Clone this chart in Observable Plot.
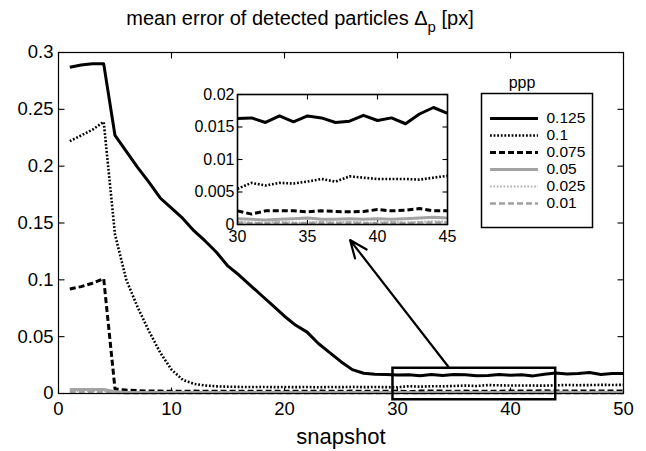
<!DOCTYPE html>
<html><head><meta charset="utf-8">
<script src="https://cdn.jsdelivr.net/npm/d3@7"></script>
<script src="https://cdn.jsdelivr.net/npm/@observablehq/plot@0.6"></script>
<style>
body{margin:0;background:#fff;font-family:"Liberation Sans",Arial,sans-serif;}
#wrap{position:relative;width:646px;height:451px;overflow:hidden;}
</style></head><body><div id="wrap"></div>
<script>
// ---- data ----
const snapshots = d3.range(1, 51);
const seriesNames = ["0.125", "0.1", "0.075", "0.05", "0.025", "0.01"];
const s125 = [0.287,0.289,0.290,0.290,0.227,0.213,0.199,0.186,0.172,0.163,
              0.154,0.143,0.134,0.124,0.112,0.104,0.095,0.086,0.077,0.068,
              0.060,0.054,0.044,0.036,0.028,0.021,0.0178,0.0170,0.0167,0.0163,
              0.0164,0.0157,0.0167,0.0158,0.0167,0.0164,0.0157,0.0159,0.0168,0.0160,
              0.0164,0.0155,0.0170,0.0180,0.0171,0.0175,0.0185,0.0168,0.0175,0.0175];
const s100 = [0.222,0.227,0.232,0.239,0.140,0.100,0.076,0.055,0.036,0.021,
              0.012,0.0085,0.0070,0.0063,0.0060,0.0058,0.0057,0.0058,0.0056,0.0057,
              0.0056,0.0057,0.0055,0.0057,0.0056,0.0058,0.0056,0.0057,0.0056,0.0055,
              0.0064,0.0060,0.0064,0.0063,0.0066,0.0070,0.0066,0.0074,0.0072,0.0070,
              0.0070,0.0070,0.0069,0.0072,0.0075,0.0073,0.0074,0.0076,0.0075,0.0076];
const s075 = [0.092,0.094,0.097,0.101,0.004,0.003,0.0025,0.0022,0.0021,0.0020,
              0.0020,0.0021,0.0019,0.0020,0.0021,0.0020,0.0019,0.0020,0.0021,0.0020,
              0.0020,0.0019,0.0021,0.0020,0.0020,0.0021,0.0020,0.0019,0.0020,0.0021,
              0.0016,0.0021,0.0021,0.0021,0.00195,0.0021,0.0020,0.00195,0.0020,0.0023,
              0.0021,0.0022,0.00245,0.0021,0.0021,0.0022,0.0021,0.0023,0.0022,0.0022];
const s050 = [0.0035,0.0035,0.0035,0.0035,0.0015,0.0009,0.0008,0.0008,0.0009,0.0008,
              0.0008,0.0009,0.0008,0.0008,0.0009,0.0008,0.0008,0.0009,0.0008,0.0008,
              0.0009,0.0008,0.0008,0.0009,0.0008,0.0008,0.0009,0.0008,0.0008,0.0009,
              0.0008,0.0007,0.0008,0.0009,0.0010,0.0008,0.0008,0.0009,0.0008,0.0009,
              0.0008,0.0009,0.0010,0.0011,0.0010,0.0009,0.0009,0.0010,0.0009,0.0009];
const s025 = [0.0022,0.0022,0.0022,0.0022,0.0008,0.0004,0.0003,0.0003,0.0004,0.0003,
              0.0003,0.0004,0.0003,0.0003,0.0004,0.0003,0.0003,0.0004,0.0003,0.0003,
              0.0004,0.0003,0.0003,0.0004,0.0003,0.0003,0.0004,0.0003,0.0003,0.0004,
              0.0003,0.0003,0.0004,0.0003,0.0003,0.0004,0.0003,0.0004,0.0003,0.0003,
              0.0004,0.0003,0.0004,0.0005,0.0004,0.0003,0.0004,0.0004,0.0003,0.0004];
const s010 = [0.0015,0.0015,0.0015,0.0015,0.0006,0.0003,0.0002,0.0002,0.0003,0.0002,
              0.0002,0.0003,0.0002,0.0002,0.0003,0.0002,0.0002,0.0003,0.0002,0.0002,
              0.0003,0.0002,0.0002,0.0003,0.0002,0.0002,0.0003,0.0002,0.0002,0.0003,
              0.0002,0.0002,0.0003,0.0002,0.0002,0.0003,0.0002,0.0003,0.0002,0.0002,
              0.0003,0.0002,0.0003,0.0003,0.0003,0.0002,0.0003,0.0003,0.0002,0.0003];
const seriesValues = [s125, s100, s075, s050, s025, s010];

const xTicks = [0, 10, 20, 30, 40, 50];
const yTicks = [0, 0.05, 0.1, 0.15, 0.2, 0.25, 0.3];
const insetXTicks = [30, 35, 40, 45];
const insetYTicks = [0, 0.005, 0.01, 0.015, 0.02];
const titleMain = "mean error of detected particles Δ";
const titleSub = "p";
const titleTail = " [px]";
const xLabel = "snapshot";
const legendTitle = "ppp";
const zoomBox = [{x1: 29.6, x2: 44.0, y1: -0.0055, y2: 0.0222}];
const arrowLink = [{x1: 34.5, y1: 0.0235, x2: 25.8, y2: 0.135}];

// ---- styles ----
const FONT = '"Liberation Sans", Arial, Helvetica, sans-serif';
const styles = {
  "0.125": {stroke: "#000", strokeWidth: 3, dash: null},
  "0.1":   {stroke: "#000", strokeWidth: 2.6, dash: "1.8,1.8"},
  "0.075": {stroke: "#000", strokeWidth: 3, dash: "6,3"},
  "0.05":  {stroke: "#a3a3a3", strokeWidth: 3, dash: null},
  "0.025": {stroke: "#b0b0b0", strokeWidth: 2.2, dash: "1.6,1.8"},
  "0.01":  {stroke: "#a0a0a0", strokeWidth: 2.6, dash: "6,3"}
};

const rows = seriesNames.flatMap((name, i) =>
  snapshots.map((x, j) => ({x, y: seriesValues[i][j], series: name})));
const fmt = d3.format("~g");

function seriesLines(data, extra = {}) {
  return seriesNames.map(name => {
    const st = styles[name];
    return Plot.line(data.filter(d => d.series === name), {
      x: "x", y: "y", stroke: st.stroke, strokeWidth: st.strokeWidth,
      strokeDasharray: st.dash || undefined, strokeLinecap: "butt", strokeLinejoin: "round", ...extra
    });
  });
}

// inward tick marks on all four sides, built from the scale domains
function boxTicks(xt, yt, xDom, yDom, fw, fh, len) {
  const kx = (xDom[1] - xDom[0]) / fw * len, ky = (yDom[1] - yDom[0]) / fh * len;
  const o = {stroke: "#000", strokeWidth: 1.1};
  return [
    Plot.link(yt, {x1: xDom[0], x2: xDom[0] + kx, y1: d => d, y2: d => d, ...o}),
    Plot.link(yt, {x1: xDom[1] - kx, x2: xDom[1], y1: d => d, y2: d => d, ...o}),
    Plot.link(xt, {x1: d => d, x2: d => d, y1: yDom[0], y2: yDom[0] + ky, ...o}),
    Plot.link(xt, {x1: d => d, x2: d => d, y1: yDom[1] - ky, y2: yDom[1], ...o})
  ];
}

// ---- main chart ----
const W = 646, H = 451, mL = 58, mR = 23, mT = 52, mB = 58;
const fw = W - mL - mR, fh = H - mT - mB;
const xDom = [0, 50], yDom = [0, 0.3];
const main = Plot.plot({
  width: W, height: H, marginLeft: mL, marginRight: mR, marginTop: mT, marginBottom: mB,
  style: {fontFamily: FONT, background: "white", overflow: "visible", position: "absolute", left: "0px", top: "0px"},
  x: {domain: xDom},
  y: {domain: yDom},
  marks: [
    ...boxTicks(xTicks, yTicks, xDom, yDom, fw, fh, 6),
    Plot.axisY(yTicks, {tickSize: 0, tickPadding: 5, tickFormat: fmt, fontSize: 18.5, label: null}),
    Plot.axisX(xTicks, {tickSize: 0, tickPadding: 8, tickFormat: fmt, fontSize: 18.5, label: null}),
    ...seriesLines(rows),
    Plot.frame({stroke: "#000", strokeWidth: 1.2}),
    Plot.rect(zoomBox, {x1: "x1", x2: "x2", y1: "y1", y2: "y2", fill: "none", stroke: "#000", strokeWidth: 2.5}),
    Plot.arrow(arrowLink, {x1: "x1", y1: "y1", x2: "x2", y2: "y2", stroke: "#000", strokeWidth: 2.2, headLength: 13, headAngle: 45}),
    Plot.text([xLabel], {text: d => d, frameAnchor: "bottom", lineAnchor: "middle", dy: 43, fontSize: 22})
  ]
});
const t = d3.select(main).append("text")
  .attr("x", 300).attr("y", 25).attr("text-anchor", "middle")
  .attr("font-family", FONT).attr("font-size", 20).attr("fill", "#000");
t.append("tspan").text(titleMain);
t.append("tspan").attr("dy", 7).attr("font-size", 15).text(titleSub);
t.append("tspan").attr("dy", -7).text(titleTail);

// ---- inset ----
const iW = 280, iH = 170, imL = 57, imR = 13, imT = 14, imB = 26;
const ifw = iW - imL - imR, ifh = iH - imT - imB;
const ixDom = [30, 45], iyDom = [0, 0.02];
const insetRows = rows.filter(d => d.x >= 30 && d.x <= 45);
const inset = Plot.plot({
  width: iW, height: iH, marginLeft: imL, marginRight: imR, marginTop: imT, marginBottom: imB,
  style: {fontFamily: FONT, background: "transparent", overflow: "visible", position: "absolute", left: "180px", top: "80px"},
  x: {domain: ixDom},
  y: {domain: iyDom},
  marks: [
    Plot.frame({fill: "white", stroke: "none"}),
    ...boxTicks(insetXTicks, insetYTicks, ixDom, iyDom, ifw, ifh, 5),
    Plot.axisY(insetYTicks, {tickSize: 0, tickPadding: 3, tickFormat: fmt, fontSize: 16, label: null}),
    Plot.axisX(insetXTicks, {tickSize: 0, tickPadding: 6, tickFormat: fmt, fontSize: 16, label: null}),
    ...seriesLines(insetRows, {clip: true}),
    Plot.frame({stroke: "#000", strokeWidth: 1.6})
  ]
});

// ---- legend ----
const lW = 140, lH = 180, lmL = 11, lmR = 18, lmT = 33, lmB = 13;
const legend = Plot.plot({
  width: lW, height: lH, marginLeft: lmL, marginRight: lmR, marginTop: lmT, marginBottom: lmB,
  style: {fontFamily: FONT, background: "transparent", overflow: "visible", position: "absolute", left: "470px", top: "60px"},
  x: {domain: [0, lW - lmL - lmR], axis: null},
  y: {type: "point", domain: seriesNames, range: [47.7, 154], axis: null},
  marks: [
    Plot.frame({fill: "white", stroke: "#000", strokeWidth: 1.5}),
    ...seriesNames.map(name => {
      const st = styles[name];
      return Plot.ruleY([name], {y: d => d, x1: 9, x2: 57, stroke: st.stroke, strokeWidth: st.strokeWidth,
        strokeDasharray: st.dash || undefined, strokeLinecap: "butt"});
    }),
    Plot.text(seriesNames, {x: 65, y: d => d, text: d => d, textAnchor: "start", fontSize: 15.5}),
    Plot.text([legendTitle], {text: d => d, frameAnchor: "top", lineAnchor: "middle", dy: -11, dx: -15, fontSize: 16})
  ]
});

const wrap = document.getElementById("wrap");
wrap.appendChild(main);
wrap.appendChild(inset);
wrap.appendChild(legend);
</script></body></html>
